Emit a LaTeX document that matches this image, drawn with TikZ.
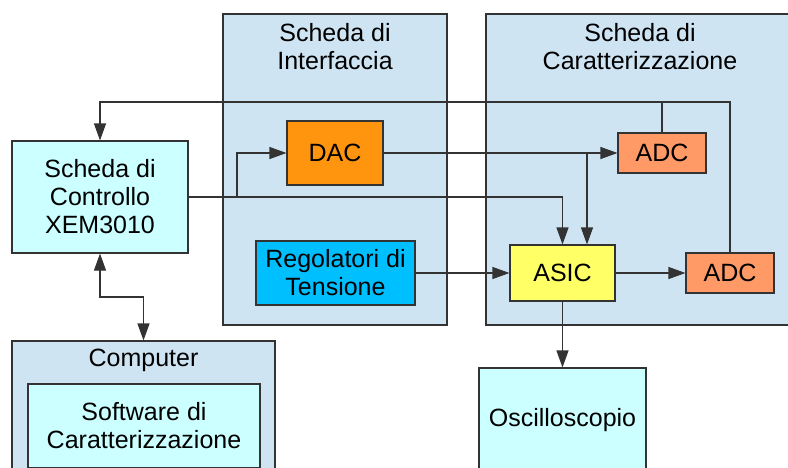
\documentclass[tikz,border=0pt]{standalone}
\usepackage{fontspec}
\setmainfont{Liberation Sans}
\usetikzlibrary{arrows.meta}
\definecolor{panelfill}{HTML}{CFE4F2}
\definecolor{cyanfill}{HTML}{CCFFFF}
\definecolor{dacfill}{HTML}{FF950E}
\definecolor{adcfill}{HTML}{FF9966}
\definecolor{regfill}{HTML}{00BFFF}
\definecolor{asicfill}{HTML}{FFFF66}
\definecolor{linecol}{HTML}{333333}
\tikzset{
  panel/.style={draw=linecol, fill=panelfill, line width=1.1pt, inner sep=0pt},
  blk/.style={draw=linecol, line width=1.1pt, inner sep=0pt, align=center,
    font=\fontsize{25}{28}\selectfont},
  ttl/.style={align=center, font=\fontsize{25}{28}\selectfont, inner sep=0pt},
  conn/.style={draw=linecol, line width=1.1pt},
  arr/.style={conn, -{Triangle[length=17pt,width=12pt]}},
  darr/.style={conn, {Triangle[length=17pt,width=12pt]}-{Triangle[length=17pt,width=12pt]}}
}
\begin{document}
\begin{tikzpicture}[x=1pt,y=-1pt]
\useasboundingbox (0,0) rectangle (788,467);
\clip (0,0) rectangle (788,467);
% panels
\node[panel, minimum width=224pt, minimum height=311pt] (pint) at (335,169.5) {};
\node[panel, minimum width=312pt, minimum height=311pt] (pcar) at (642,169.5) {};
\node[panel, minimum width=263pt, minimum height=139pt] (comp) at (143.5,410.5) {};
\node[ttl] (tint) at (335,47) {Scheda di\\Interfaccia};
\node[ttl] (tcar) at (640,47) {Scheda di\\Caratterizzazione};
\node[ttl] (tcomp) at (143.5,360) {Computer};
% blocks
\node[blk, fill=cyanfill, minimum width=232pt, minimum height=84pt] (soft) at (144,426) {Software di\\Caratterizzazione};
\node[blk, fill=cyanfill, minimum width=176pt, minimum height=112pt] (ctrl) at (100,197) {Scheda di\\Controllo\\XEM3010};
\node[blk, fill=dacfill, minimum width=96pt, minimum height=64pt] (dac) at (335,153) {DAC};
\node[blk, fill=regfill, minimum width=159pt, minimum height=64pt] (reg) at (335.5,273) {Regolatori di\\Tensione};
\node[blk, fill=asicfill, minimum width=105pt, minimum height=56pt] (asic) at (562.5,273) {ASIC};
\node[blk, fill=adcfill, minimum width=88pt, minimum height=40pt] (adc1) at (662,153) {ADC};
\node[blk, fill=adcfill, minimum width=88pt, minimum height=40pt] (adc2) at (730,273) {ADC};
\node[blk, fill=cyanfill, minimum width=167pt, minimum height=104pt] (osc) at (562.5,420) {Oscilloscopio};
% helper coordinates
\coordinate (fb) at (0,102);
\coordinate (br1) at (237,197);
\coordinate (br2) at (587,153);
\coordinate (cbend) at (100,297);
% connectors
\draw[arr] (adc2.north) |- (fb -| ctrl.north) -- (ctrl.north);
\draw[conn] (adc1.north) -- (adc1.north |- fb);
\draw[arr] (ctrl.east) -| (asic.north);
\draw[arr] (br1) |- (dac.west);
\draw[arr] (dac.east) -- (adc1.west);
\draw[arr] (br2) -- (br2 |- asic.north);
\draw[arr] (reg.east) -- (asic.west);
\draw[arr] (asic.east) -- (adc2.west);
\draw[arr] (asic.south) -- (osc.north);
\draw[darr] (ctrl.south) -- (cbend) -| (comp.north);
\end{tikzpicture}
\end{document}
